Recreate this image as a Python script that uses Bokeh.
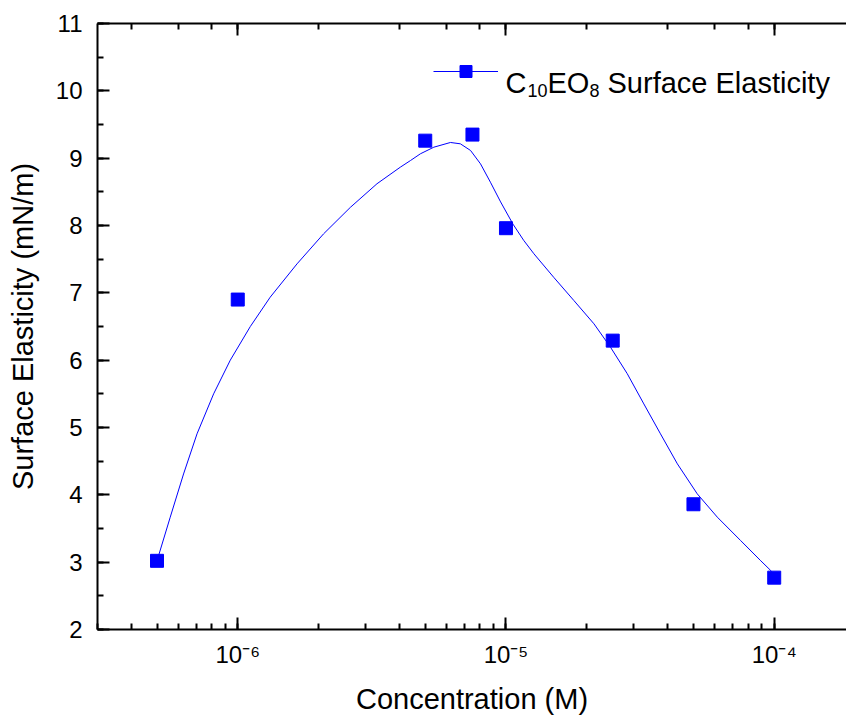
from bokeh.plotting import figure
from bokeh.models import (LogAxis, LogTicker, SingleIntervalTicker, CustomJSTickFormatter,
                          Legend, LegendItem, Range1d, Label)
from bokeh.embed import file_html
from bokeh.resources import INLINE

# ---- data ----
conc = [5e-7, 1e-6, 5e-6, 7.5e-6, 1e-5, 2.5e-5, 5e-5, 1e-4]
elasticity = [3.02, 6.90, 9.26, 9.35, 7.96, 6.29, 3.86, 2.77]

# smooth fitted curve
curve_conc = [5.0e-7, 5.60e-7, 6.28e-7, 7.05e-7, 8.13e-7, 9.38e-7, 1.114e-6, 1.321e-6,
              1.663e-6, 2.089e-6, 2.630e-6, 3.304e-6, 4.036e-6, 4.406e-6, 4.797e-6,
              5.383e-6, 6.209e-6, 6.761e-6, 7.379e-6, 8.035e-6, 8.750e-6, 9.550e-6,
              1.062e-5, 1.164e-5, 1.271e-5, 1.507e-5, 1.791e-5, 2.128e-5, 2.455e-5,
              2.831e-5, 3.266e-5, 3.767e-5, 4.355e-5, 5.164e-5, 6.138e-5, 7.499e-5,
              8.913e-5, 9.705e-5, 1.0e-4]
curve_elasticity = [3.02, 3.667, 4.31, 4.906, 5.50, 6.00, 6.50, 6.935,
                    7.43, 7.876, 8.27, 8.62, 8.866, 8.965, 9.065,
                    9.163, 9.233, 9.213, 9.114, 8.916, 8.643, 8.35,
                    8.02, 7.78, 7.58, 7.23, 6.886, 6.54, 6.19,
                    5.80, 5.35, 4.906, 4.46, 4.015, 3.668, 3.32,
                    3.02, 2.876, 2.77]

x_limits = (3.0e-7, 1.86e-4)
y_limits = (2, 11)
x_title = "Concentration (M)"
y_title = "Surface Elasticity (mN/m)"
# legend text pieces: (text, is_subscript)
legend_parts = [("C", False), ("10", True), ("EO", False), ("8", True), ("Surface Elasticity", False)]

FONT = "Liberation Sans"
BLUE = "#0000ff"

p = figure(width=846, height=717, x_axis_type="log",
           x_range=Range1d(*x_limits), y_range=Range1d(*y_limits),
           output_backend="svg", toolbar_location=None,
           min_border_left=97, min_border_right=0, min_border_top=23, min_border_bottom=88)
p.outline_line_color = None
p.xgrid.visible = False
p.ygrid.visible = False
p.background_fill_color = "white"
p.border_fill_color = "white"

bottom_axis = p.below[0]
left_axis = p.left[0]

left_axis.ticker = SingleIntervalTicker(interval=1, num_minor_ticks=2)
bottom_axis.formatter = CustomJSTickFormatter(code="""
const sup = {'-':'\u207b','0':'\u2070','1':'\u00b9','2':'\u00b2','3':'\u00b3','4':'\u2074',
             '5':'\u2075','6':'\u2076','7':'\u2077','8':'\u2078','9':'\u2079'};
const e = Math.round(Math.log10(tick));
return '10' + String(e).split('').map(c => sup[c]).join('');
""")

top_axis = LogAxis(ticker=LogTicker(), formatter=CustomJSTickFormatter(code="return '';"))
top_axis.major_label_standoff = 0
p.add_layout(top_axis, "above")

for ax in [bottom_axis, left_axis, top_axis]:
    ax.axis_line_width = 2
    ax.axis_line_color = "black"
    ax.major_tick_line_width = 2
    ax.minor_tick_line_width = 2
    ax.major_tick_line_color = "black"
    ax.minor_tick_line_color = "black"
    ax.major_tick_in = 12
    ax.major_tick_out = 0
    ax.minor_tick_in = 6
    ax.minor_tick_out = 0

for ax in [bottom_axis, left_axis]:
    ax.major_label_text_font = FONT
    ax.major_label_text_font_size = "24px"
    ax.major_label_text_color = "black"
    ax.axis_label_text_font = FONT
    ax.axis_label_text_font_size = "29px"
    ax.axis_label_text_font_style = "normal"
    ax.axis_label_text_color = "black"

bottom_axis.axis_label = x_title
left_axis.axis_label = y_title
bottom_axis.major_label_standoff = 11
bottom_axis.axis_label_standoff = 12
left_axis.major_label_standoff = 15
left_axis.axis_label_standoff = 14

line_r = p.line(curve_conc, curve_elasticity, line_color=BLUE, line_width=1)
pts_r = p.scatter(conc, elasticity, marker="square", size=13,
                  fill_color=BLUE, line_color=BLUE)

legend = Legend(items=[LegendItem(label=" ", renderers=[line_r, pts_r])],
                location=(336, 543), border_line_color=None, background_fill_alpha=0,
                label_text_font=FONT, label_text_font_size="10px", label_width=0,
                glyph_width=65, glyph_height=30, label_height=30,
                padding=0, margin=0, spacing=0, label_standoff=0)
p.add_layout(legend)

# legend text, built from pieces (screen positions relative to frame bottom-left)
legend_x = [408, 430, 450, 492, 510]
for (txt, sub), lx in zip(legend_parts, legend_x):
    p.add_layout(Label(x=lx, y=(539 if sub else 547), x_units="screen", y_units="screen",
                       text=txt, text_align="left", text_baseline="alphabetic",
                       text_font=FONT, text_font_size=("18px" if sub else "29px"),
                       text_color="black"))

open("out.html", "w").write(file_html(p, INLINE))
